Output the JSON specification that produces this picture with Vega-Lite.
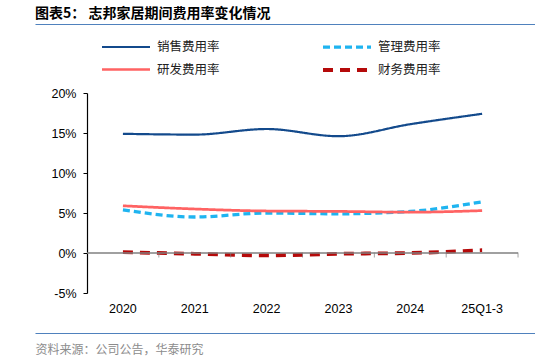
{
  "$schema": "https://vega.github.io/schema/vega-lite/v6.json",
  "width": 500,
  "height": 200,
  "autosize": "none",
  "padding": {"left": 35, "top": 93, "right": 0, "bottom": 69},
  "background": "white",
  "title": {
    "text": "图表5：  志邦家居期间费用率变化情况",
    "anchor": "start",
    "frame": "group",
    "font": "Noto Sans CJK SC",
    "fontSize": 14,
    "fontWeight": "bold",
    "color": "#000000",
    "offset": 3
  },
  "config": {
    "view": {"stroke": null},
    "font": "Liberation Sans",
    "axisY": {"labelOverlap": false, "tickCount": 10}
  },
  "data": {
    "values": [
      {"period": "2020", "series": "销售费用率", "value": 0.149},
      {"period": "2021", "series": "销售费用率", "value": 0.148},
      {"period": "2022", "series": "销售费用率", "value": 0.155},
      {"period": "2023", "series": "销售费用率", "value": 0.146},
      {"period": "2024", "series": "销售费用率", "value": 0.161},
      {"period": "25Q1-3", "series": "销售费用率", "value": 0.174},
      {"period": "2020", "series": "管理费用率", "value": 0.054},
      {"period": "2021", "series": "管理费用率", "value": 0.045},
      {"period": "2022", "series": "管理费用率", "value": 0.050},
      {"period": "2023", "series": "管理费用率", "value": 0.049},
      {"period": "2024", "series": "管理费用率", "value": 0.052},
      {"period": "25Q1-3", "series": "管理费用率", "value": 0.064},
      {"period": "2020", "series": "研发费用率", "value": 0.059},
      {"period": "2021", "series": "研发费用率", "value": 0.055},
      {"period": "2022", "series": "研发费用率", "value": 0.0525},
      {"period": "2023", "series": "研发费用率", "value": 0.052},
      {"period": "2024", "series": "研发费用率", "value": 0.051},
      {"period": "25Q1-3", "series": "研发费用率", "value": 0.053},
      {"period": "2020", "series": "财务费用率", "value": 0.001},
      {"period": "2021", "series": "财务费用率", "value": -0.001},
      {"period": "2022", "series": "财务费用率", "value": -0.003},
      {"period": "2023", "series": "财务费用率", "value": -0.001},
      {"period": "2024", "series": "财务费用率", "value": 0.0},
      {"period": "25Q1-3", "series": "财务费用率", "value": 0.0035}
    ]
  },
  "resolve": {"axis": {"x": "independent"}},
  "layer": [
    {
      "mark": {"type": "line", "interpolate": "monotone"},
      "encoding": {
        "x": {"field": "period", "type": "nominal", "sort": null,
              "scale": {"domain": ["2020", "2021", "2022", "2023", "2024", "25Q1-3"], "paddingInner": 0, "paddingOuter": 0.48, "align": 0.754},
              "axis": {"orient": "bottom", "offset": 40, "domain": true, "domainColor": "#4F81BD", "domainWidth": 1.2, "ticks": false, "tickSize": 0, "labelPadding": -31, "labelAngle": 0, "labelFontSize": 12.5, "labelColor": "#000000", "labelFont": "Liberation Sans", "grid": false,
                       "title": "资料来源：公司公告，华泰研究", "titleFont": "Noto Sans CJK SC", "titleFontSize": 12, "titleFontWeight": "normal", "titleColor": "#8C8C8C", "titleAnchor": "start", "titleAlign": "left", "titleX": 0, "titleY": 16, "titleBaseline": "middle"}},
        "y": {"field": "value", "type": "quantitative",
              "scale": {"domain": [-0.05, 0.2], "nice": false, "zero": false},
              "axis": {"values": [-0.05, 0, 0.05, 0.1, 0.15, 0.2], "tickCount": 10, "format": ".0%", "labelExpr": "replace(datum.label, '−', '-')", "labelOverlap": false, "offset": -52, "domainColor": "#000000", "domainWidth": 1.2, "tickColor": "#000000", "tickSize": 4, "labelPadding": 7, "labelFontSize": 12.5, "labelColor": "#000000", "labelFont": "Liberation Sans", "grid": false, "title": null}},
        "color": {"field": "series", "type": "nominal",
                  "scale": {"domain": ["销售费用率", "研发费用率", "管理费用率", "财务费用率"], "range": ["#134A8C", "#FF6363", "#1FB4F0", "#B50A0A"]},
                  "legend": {"orient": "none", "legendX": 83, "legendY": -54, "columns": 2, "title": null, "symbolType": "M-4,0H4", "symbolSize": 144, "labelFont": "Noto Sans CJK SC", "labelFontSize": 12.5, "labelColor": "#222222", "labelOffset": 23, "columnPadding": 95, "rowPadding": 8, "labelLimit": 200}},
        "strokeDash": {"field": "series", "type": "nominal",
                       "scale": {"domain": ["销售费用率", "研发费用率", "管理费用率", "财务费用率"], "range": [[1, 0], [1, 0], [7, 4], [10, 7]]}},
        "strokeWidth": {"field": "series", "type": "nominal",
                        "scale": {"domain": ["销售费用率", "研发费用率", "管理费用率", "财务费用率"], "range": [2.2, 3.8, 2.2, 3.8]}}
      }
    },
    {
      "mark": {"type": "tick", "orient": "vertical", "color": "#808080", "size": 5, "thickness": 1, "yOffset": 2},
      "transform": [{"filter": "datum.series === '销售费用率'"}],
      "encoding": {
        "x": {"field": "period", "type": "nominal", "bandPosition": 1,
              "axis": {"orient": "top", "offset": 69, "domain": true, "domainColor": "#4F81BD", "domainWidth": 1.2, "ticks": true, "tickSize": 0, "tickOpacity": 0, "labels": false, "title": null, "grid": false}},
        "y": {"datum": 0, "type": "quantitative"}
      }
    },
    {
      "mark": {"type": "rule", "color": "#808080", "strokeWidth": 1.5},
      "transform": [{"filter": "datum.series === '销售费用率'"}, {"aggregate": [{"op": "min", "field": "value", "as": "m"}]}],
      "encoding": {
        "x": {"datum": "2020", "type": "nominal", "bandPosition": 0, "axis": null},
        "x2": {"datum": "25Q1-3", "bandPosition": 1},
        "y": {"datum": 0, "type": "quantitative"}
      }
    }
  ]
}
